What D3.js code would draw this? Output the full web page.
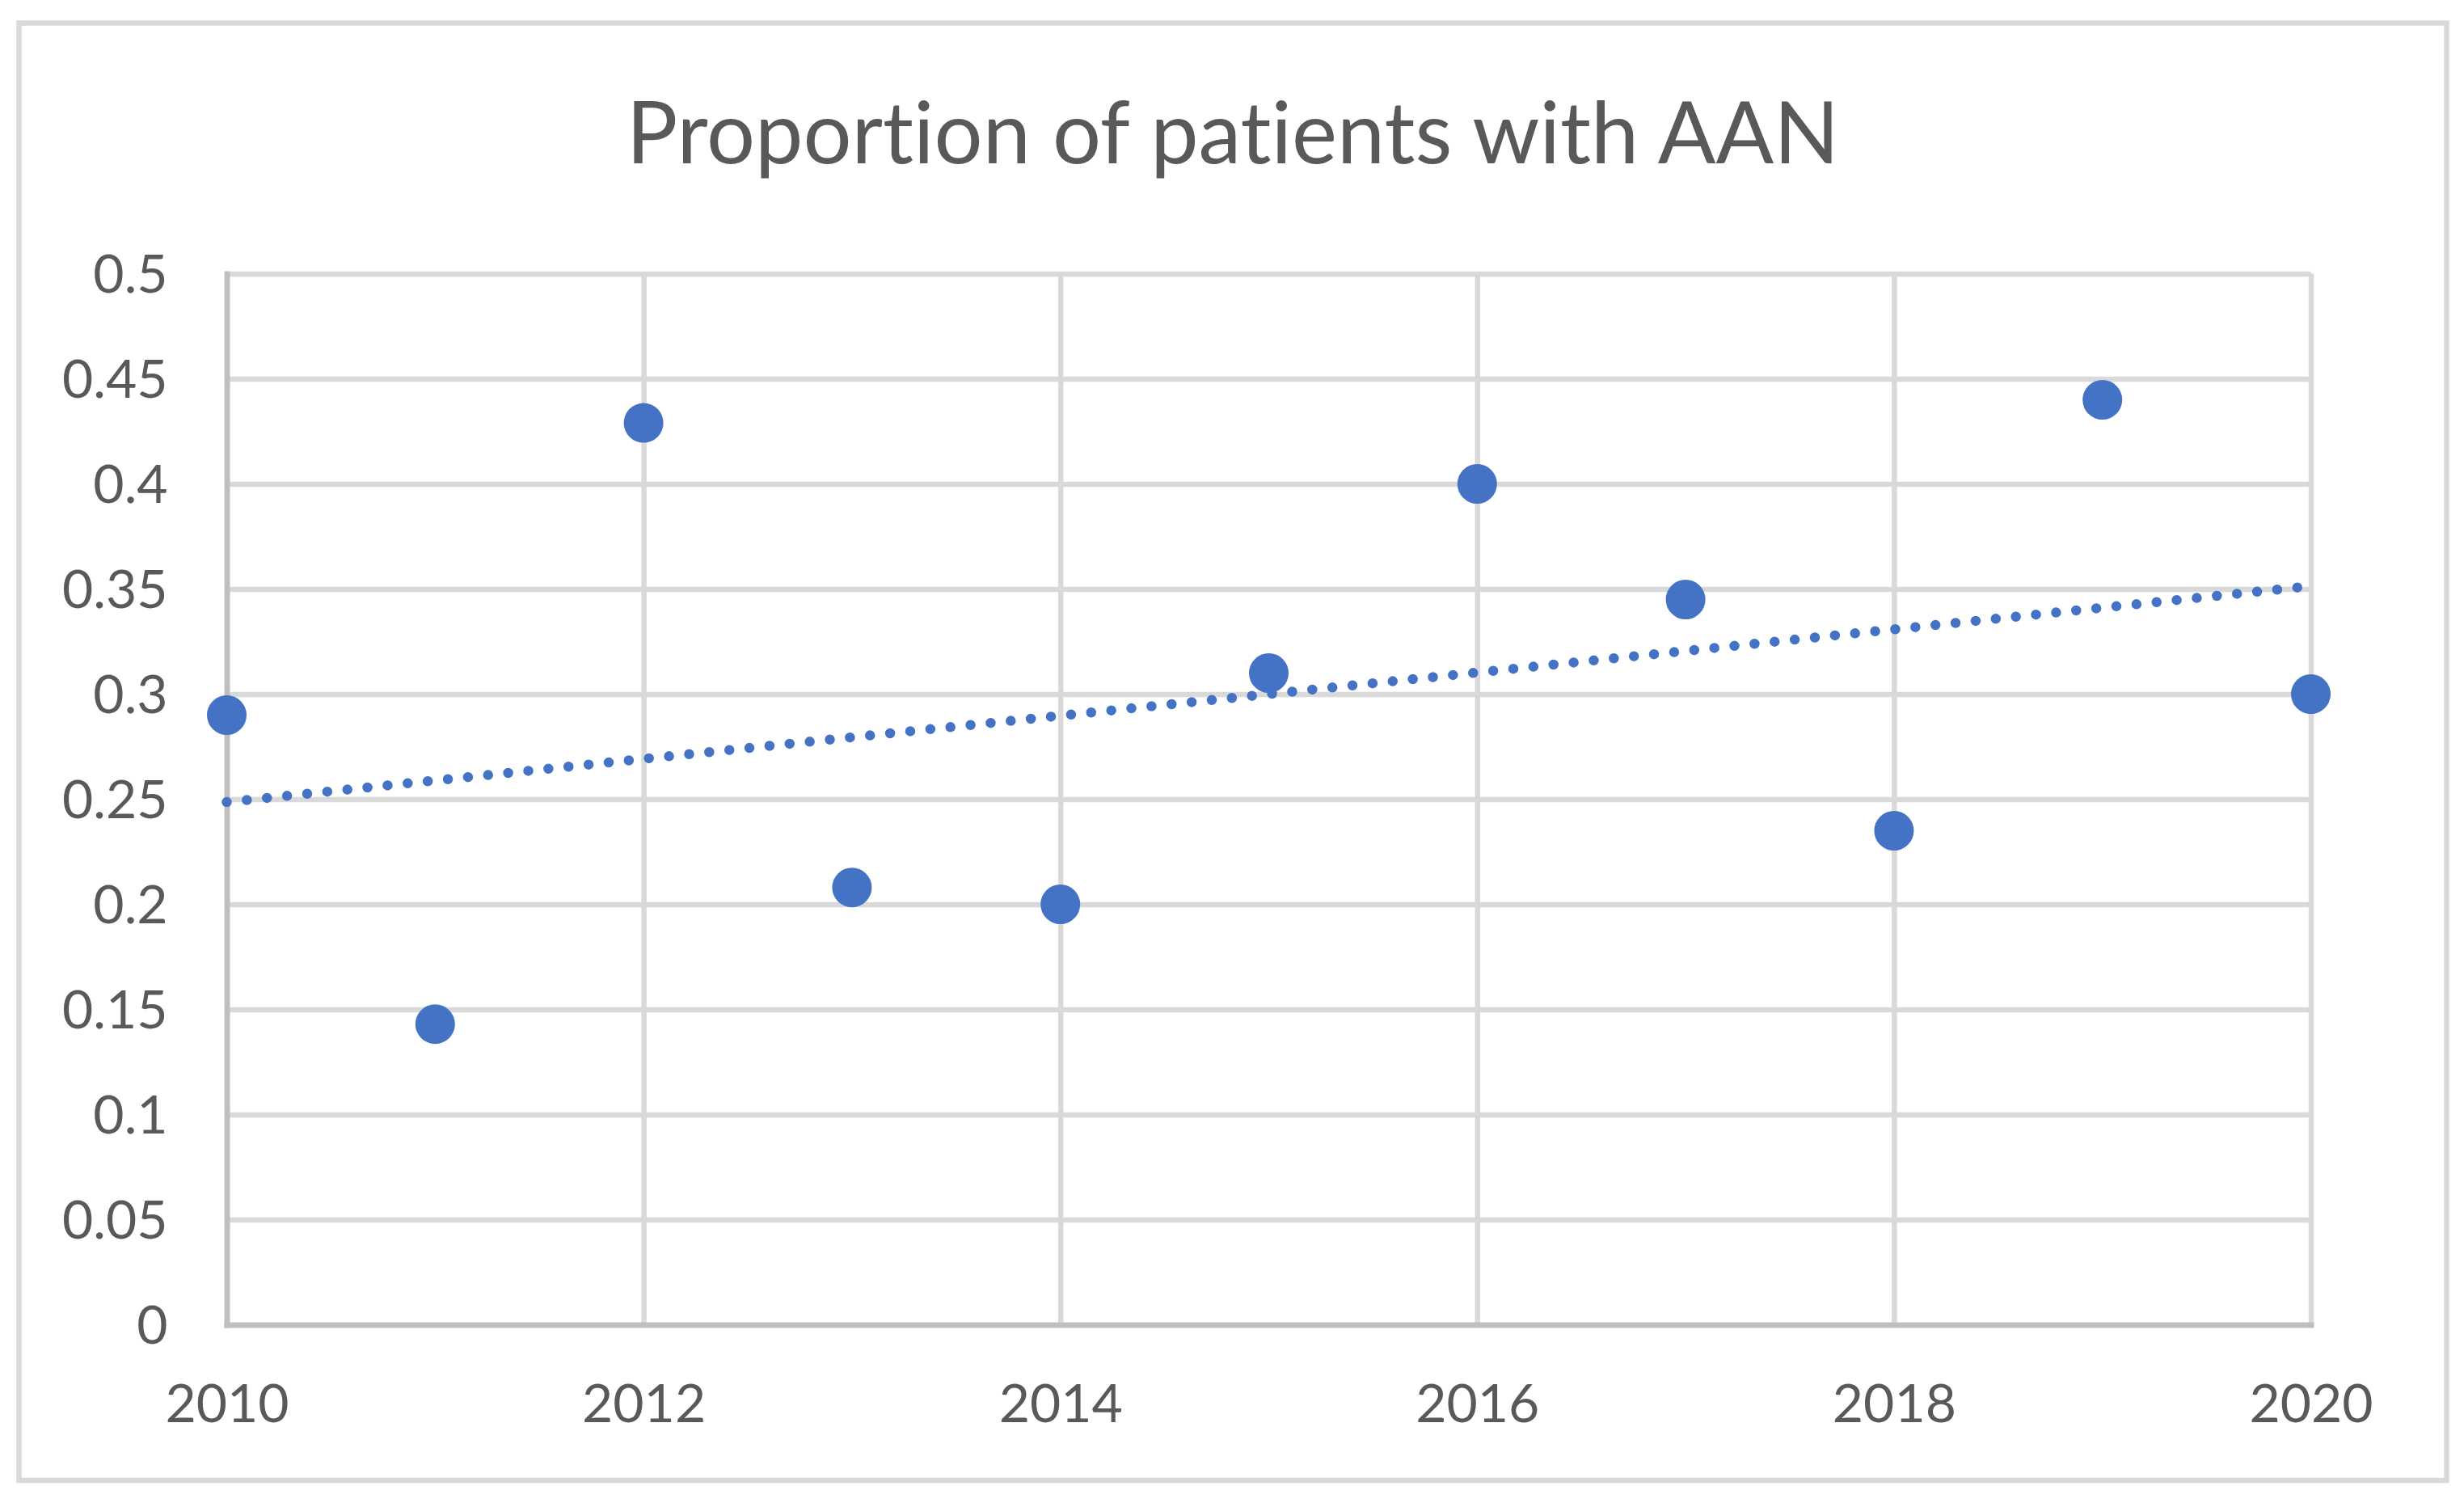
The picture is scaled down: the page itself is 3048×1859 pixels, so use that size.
<!DOCTYPE html>
<html>
<head>
<meta charset="utf-8">
<script src="https://cdn.jsdelivr.net/npm/d3@7"></script>
<style>
  body { margin: 0; background: #fff; }
  text { font-family: Lato, "Open Sans", sans-serif; fill: #595959; font-variant-ligatures: none; }
</style>
</head>
<body>
<div id="chart"></div>
<script>
// data
var years = [2010, 2011, 2012, 2013, 2014, 2015, 2016, 2017, 2018, 2019, 2020];
var proportions = [0.29, 0.143, 0.429, 0.208, 0.2, 0.31, 0.4, 0.345, 0.235, 0.44, 0.3];
var xTicks = [2010, 2012, 2014, 2016, 2018, 2020];
var yTicks = [0, 0.05, 0.1, 0.15, 0.2, 0.25, 0.3, 0.35, 0.4, 0.45, 0.5];
var chartTitle = "Proportion of patients with AAN";

var svgWidth = 3048;
var svgHeight = 1859;

var margin = { top: 338.5, bottom: 220.5, left: 280.5, right: 189.5 };
var width = svgWidth - margin.left - margin.right;
var height = svgHeight - margin.top - margin.bottom;

var svg = d3.select("#chart")
    .append("svg")
    .attr("width", svgWidth)
    .attr("height", svgHeight);

// outer chart border
svg.append("rect")
    .attr("x", 23.5)
    .attr("y", 28.5)
    .attr("width", 3003)
    .attr("height", 1802.5)
    .attr("fill", "#fff")
    .attr("stroke", "#D9D9D9")
    .attr("stroke-width", 6.5);

// title
svg.append("text")
    .attr("x", 1525)
    .attr("y", 202)
    .attr("text-anchor", "middle")
    .attr("font-size", 106)
    .text(chartTitle);

var chartGroup = svg.append("g")
    .attr("transform", `translate(${margin.left}, ${margin.top})`);

// scales
var xScale = d3.scaleLinear()
    .domain([2010, 2020])
    .range([0, width]);

var yScale = d3.scaleLinear()
    .domain([0, 0.5])
    .range([height, 0]);

// gridlines
var yGrid = d3.axisLeft(yScale).tickValues(yTicks.slice(1)).tickSize(-width).tickFormat("");
chartGroup.append("g")
    .attr("class", "grid")
    .call(yGrid);

var xGrid = d3.axisBottom(xScale).tickValues(xTicks.slice(1)).tickSize(-height).tickFormat("");
chartGroup.append("g")
    .attr("class", "grid")
    .attr("transform", `translate(0, ${height})`)
    .call(xGrid);

chartGroup.selectAll(".grid .domain").remove();
chartGroup.selectAll(".grid line")
    .attr("stroke", "#D9D9D9")
    .attr("stroke-width", 6.5);

// axes
var xAxis = d3.axisBottom(xScale).tickValues(xTicks).tickSize(0).tickPadding(0).tickFormat(d3.format("d"));
var yAxis = d3.axisLeft(yScale).tickValues(yTicks).tickSize(0).tickPadding(0).tickFormat(d => String(d));

var gx = chartGroup.append("g")
    .attr("transform", `translate(0, ${height})`)
    .call(xAxis);

var gy = chartGroup.append("g")
    .call(yAxis);

[gx, gy].forEach(function(g) {
  g.select(".domain")
    .attr("stroke", "#BFBFBF")
    .attr("stroke-width", 7)
    .attr("stroke-linecap", "square");
  g.selectAll("text")
    .attr("font-family", "Lato, 'Open Sans', sans-serif")
    .attr("font-size", 66)
    .attr("fill", "#595959");
});

gx.selectAll("text").attr("dy", null).attr("y", 120);
gy.selectAll("text").attr("x", -73).attr("dy", "0.35em");

// linear trend line from the points
var meanX = d3.mean(years);
var meanY = d3.mean(proportions);
var sxy = d3.sum(years, (x, i) => (x - meanX) * (proportions[i] - meanY));
var sxx = d3.sum(years, x => (x - meanX) * (x - meanX));
var slope = sxy / sxx;
var intercept = meanY - slope * meanX;
var trend = [2010, 2020].map(x => [x, intercept + slope * x]);

chartGroup.append("path")
    .datum(trend)
    .attr("fill", "none")
    .attr("stroke", "#4472C4")
    .attr("stroke-width", 12.5)
    .attr("stroke-linecap", "round")
    .attr("stroke-dasharray", "0 25")
    .attr("d", d3.line().x(d => xScale(d[0])).y(d => yScale(d[1])));

// points
chartGroup.selectAll("circle")
    .data(years)
    .enter()
    .append("circle")
    .attr("cx", d => xScale(d))
    .attr("cy", (d, i) => yScale(proportions[i]))
    .attr("r", 24.5)
    .attr("fill", "#4472C4");
</script>
</body>
</html>
